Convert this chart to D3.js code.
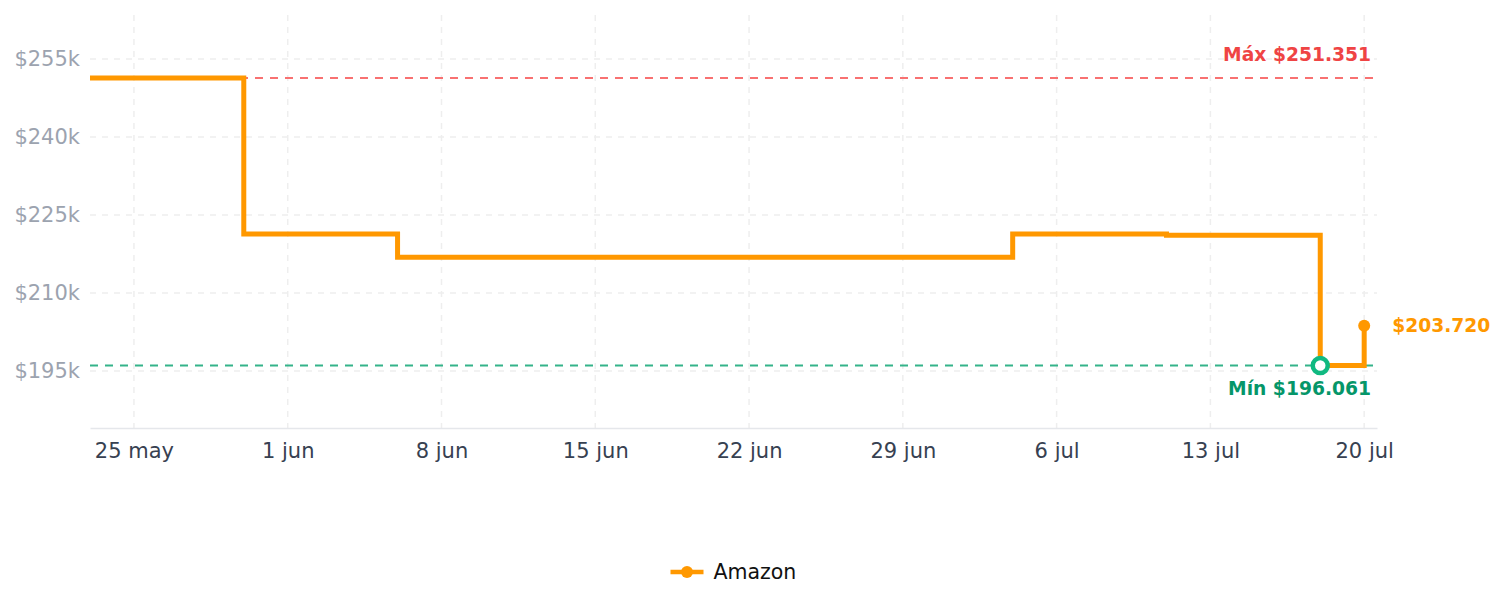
<!DOCTYPE html>
<html>
<head>
<meta charset="utf-8">
<script src="https://cdn.jsdelivr.net/npm/d3@7"></script>
<style>
  body { margin: 0; background: #fff; font-family: "DejaVu Sans", sans-serif; }
</style>
</head>
<body>
<div id="chart"></div>
<script>
var dates = ["2025-05-23", "2025-05-30", "2025-06-06", "2025-07-04", "2025-07-11", "2025-07-18", "2025-07-20"];
var prices = [251351, 221350, 216880, 221350, 221120, 196061, 203720];
var yTicks = [195000, 210000, 225000, 240000, 255000];
var xTickDates = ["2025-05-25", "2025-06-01", "2025-06-08", "2025-06-15", "2025-06-22", "2025-06-29", "2025-07-06", "2025-07-13", "2025-07-20"];
var xTickLabels = ["25 may", "1 jun", "8 jun", "15 jun", "22 jun", "29 jun", "6 jul", "13 jul", "20 jul"];
var seriesName = "Amazon";

var W = 1505, H = 607;
var margin = {top: 15, right: 128, bottom: 179, left: 90},
    width = W - margin.left - margin.right,
    height = H - margin.top - margin.bottom;

var parse = d3.utcParse("%Y-%m-%d");
var data = dates.map(function(d, i) { return {date: parse(d), price: prices[i]} });

var svg = d3.select("#chart")
  .append("svg")
    .attr("width", W)
    .attr("height", H)
  .append("g")
    .attr("transform", "translate(" + margin.left + "," + margin.top + ")");

var x = d3.scaleUtc()
  .domain([parse("2025-05-23"), new Date(Date.UTC(2025, 6, 20, 14))])
  .range([0, width]);

var y = d3.scaleLinear()
  .domain([184050, 263450])
  .range([height, 0]);

// grid
svg.append("g")
  .selectAll("line.h")
  .data(yTicks)
  .join("line")
    .attr("x1", 0).attr("x2", width)
    .attr("y1", function(d) { return y(d) }).attr("y2", function(d) { return y(d) })
    .attr("stroke", "#eeeeee").attr("stroke-width", 1.5)
    .attr("stroke-dasharray", "6,6");

svg.append("g")
  .selectAll("line.v")
  .data(xTickDates)
  .join("line")
    .attr("x1", function(d) { return x(parse(d)) }).attr("x2", function(d) { return x(parse(d)) })
    .attr("y1", 0).attr("y2", height)
    .attr("stroke", "#eeeeee").attr("stroke-width", 1.5)
    .attr("stroke-dasharray", "6,6");

// x axis
var xAxis = svg.append("g")
  .attr("transform", "translate(0," + height + ")")
  .call(d3.axisBottom(x)
    .tickValues(xTickDates.map(parse))
    .tickFormat(function(d, i) { return xTickLabels[i] })
    .tickSize(0)
    .tickPadding(15));
xAxis.select(".domain").attr("stroke", "#e5e7eb").attr("stroke-width", 1.5);
xAxis.selectAll("text")
  .attr("fill", "#374151")
  .style("font-size", "21px")
  .style("font-family", "DejaVu Sans");

// y axis
var yAxis = svg.append("g")
  .call(d3.axisLeft(y)
    .tickValues(yTicks)
    .tickFormat(function(d) { return "$" + (d / 1000) + "k" })
    .tickSize(0)
    .tickPadding(10));
yAxis.select(".domain").remove();
yAxis.selectAll("text")
  .attr("fill", "#9ca3af")
  .style("font-size", "21px")
  .style("font-family", "DejaVu Sans");

var maxP = d3.max(prices), minP = d3.min(prices);
var minD = data[prices.indexOf(minP)];
var last = data[data.length - 1];

// max / min reference lines
svg.append("line")
  .attr("x1", 0).attr("x2", width)
  .attr("y1", y(maxP)).attr("y2", y(maxP))
  .attr("stroke", "#f87171").attr("stroke-width", 2)
  .attr("stroke-dasharray", "8,7");

svg.append("line")
  .attr("x1", 0).attr("x2", width)
  .attr("y1", y(minP)).attr("y2", y(minP))
  .attr("stroke", "#34b38a").attr("stroke-width", 2)
  .attr("stroke-dasharray", "8,7");

// price line
svg.append("path")
  .datum(data)
  .attr("fill", "none")
  .attr("stroke", "#ff9800")
  .attr("stroke-width", 5)
  .attr("d", d3.line()
    .curve(d3.curveStepAfter)
    .x(function(d) { return x(d.date) })
    .y(function(d) { return y(d.price) }));

var fmt = function(v) { return "$" + d3.format(",")(v).replace(/,/g, ".") };

svg.append("text")
  .attr("x", width - 6).attr("y", y(maxP) - 17)
  .attr("text-anchor", "end")
  .attr("fill", "#ef4444")
  .style("font-size", "18.7px").style("font-weight", "bold")
  .text("Máx " + fmt(maxP));

svg.append("text")
  .attr("x", width - 6).attr("y", y(minP) + 29.5)
  .attr("text-anchor", "end")
  .attr("fill", "#059669")
  .style("font-size", "18.7px").style("font-weight", "bold")
  .text("Mín " + fmt(minP));

// min marker
svg.append("circle")
  .attr("cx", x(minD.date)).attr("cy", y(minD.price))
  .attr("r", 7.5)
  .attr("fill", "#fff")
  .attr("stroke", "#10b981").attr("stroke-width", 4.5);

// last point
svg.append("circle")
  .attr("cx", x(last.date)).attr("cy", y(last.price))
  .attr("r", 6)
  .attr("fill", "#ff9800");

svg.append("text")
  .attr("x", x(last.date) + 28).attr("y", y(last.price))
  .attr("dominant-baseline", "central")
  .attr("fill", "#ff9800")
  .style("font-size", "18.7px").style("font-weight", "bold")
  .text(fmt(last.price));

// legend
var lg = svg.append("g")
  .attr("transform", "translate(" + (width / 2 - 63) + "," + (572 - margin.top) + ")");
lg.append("line")
  .attr("x1", 0).attr("x2", 33)
  .attr("stroke", "#ff9800").attr("stroke-width", 4.5);
lg.append("circle")
  .attr("cx", 16.5).attr("r", 6)
  .attr("fill", "#ff9800");
lg.append("text")
  .attr("x", 43)
  .attr("dominant-baseline", "central")
  .attr("fill", "#111")
  .style("font-size", "20.5px")
  .text(seriesName);
</script>
</body>
</html>
